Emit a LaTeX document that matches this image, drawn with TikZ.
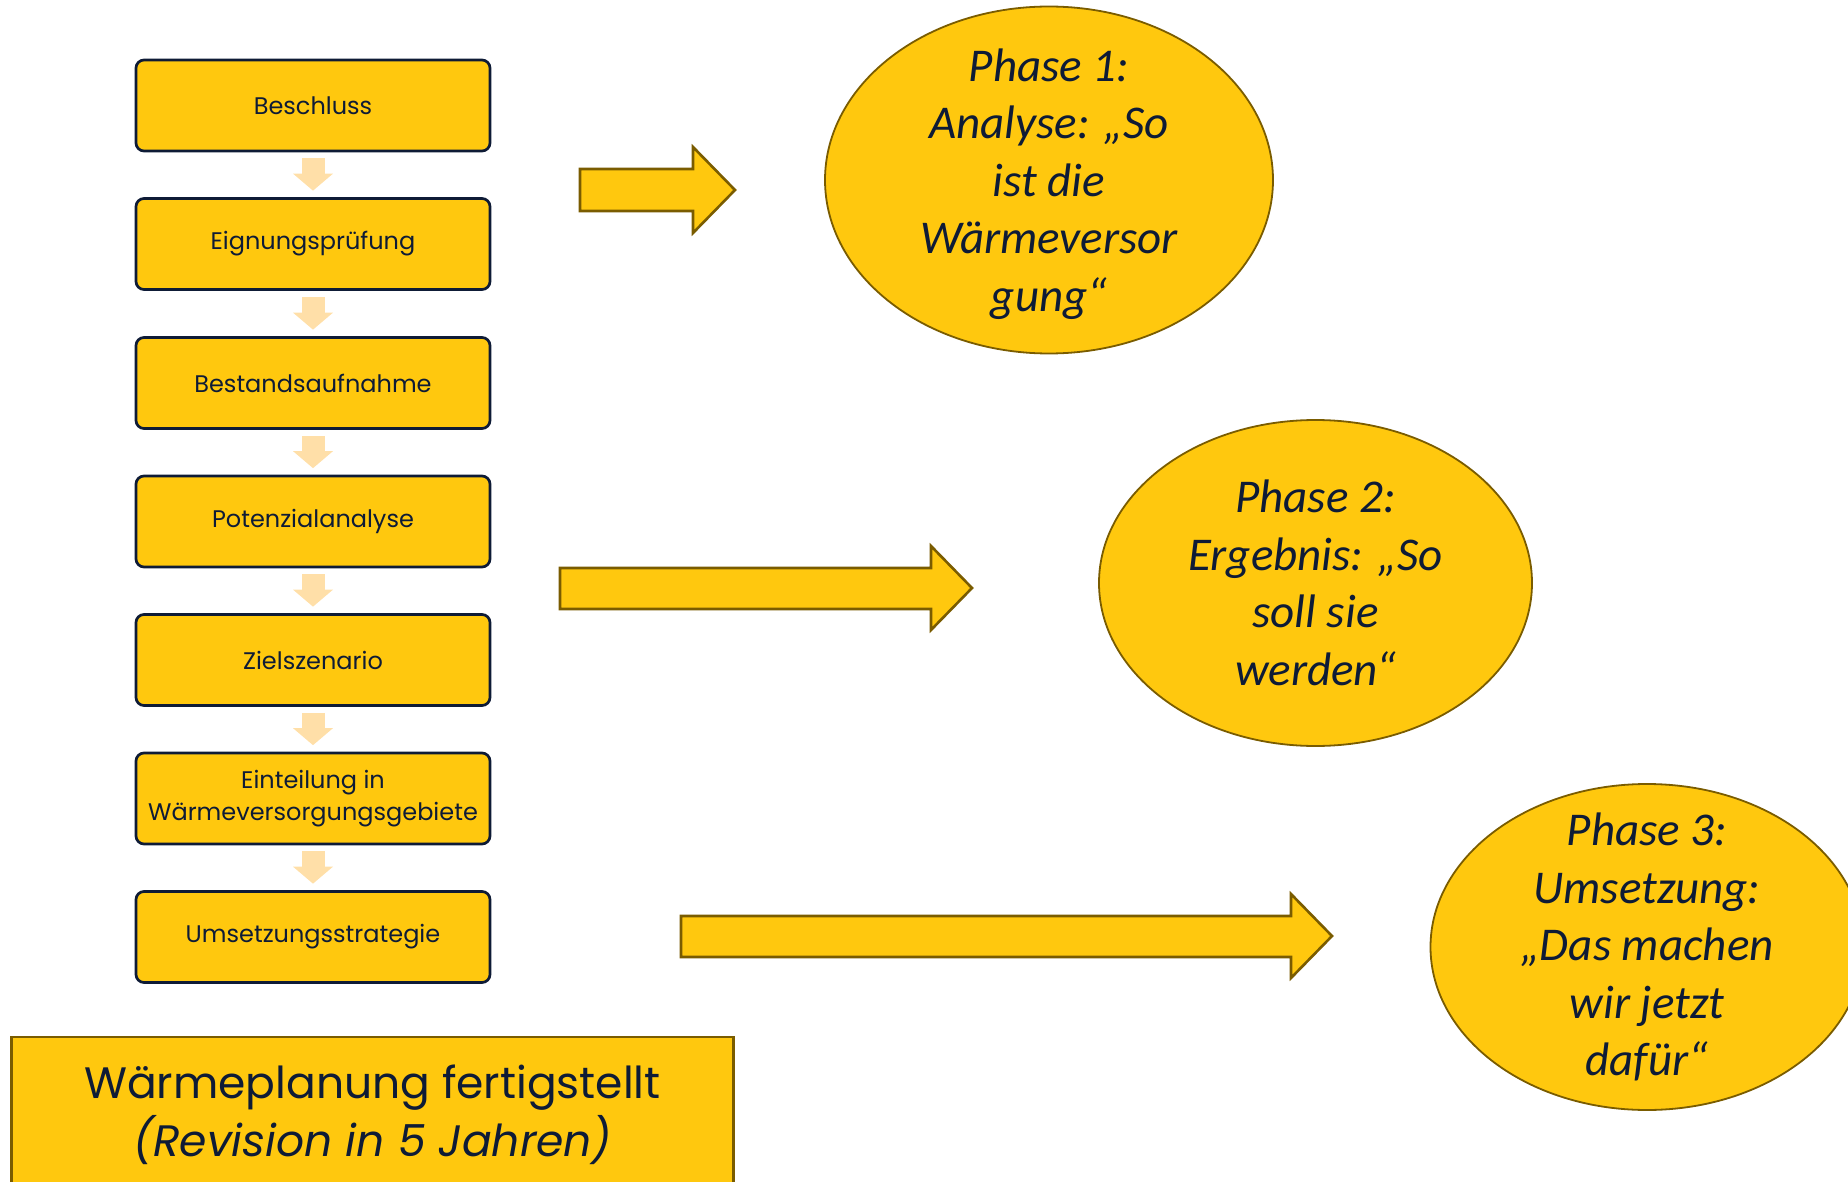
\documentclass[tikz,border=0pt]{standalone}
\usepackage{fontspec}
\setmainfont{Poppins}
\newfontfamily\calibri{Carlito}
\usetikzlibrary{arrows.meta,shapes.geometric}
\definecolor{gold}{HTML}{FFC80E}
\definecolor{olive}{HTML}{7A5C00}
\definecolor{navy}{HTML}{0E1B36}
\definecolor{peach}{HTML}{FFDFA8}
\tikzset{
  stepbox/.style={draw=navy, line width=2.7pt, fill=gold, rounded corners=8pt,
    minimum width=354pt, minimum height=91pt, inner sep=0pt, align=center,
    text=navy, font=\fontsize{24}{32}\selectfont},
  stepflow/.style={draw=peach, line width=23pt,
    -{Triangle[width=40pt,length=17pt,line width=0pt]},
    shorten <=6pt, shorten >=6.5pt},
  phase/.style={ellipse, draw=olive, line width=1.8pt, fill=gold, inner sep=0pt},
  phasetext/.style={align=center, text=navy, inner sep=0pt,
    font=\calibri\itshape\fontsize{47}{57.5}\selectfont},
  bigarrow/.style={draw=olive, line width=2.6pt, fill=gold, line join=miter},
  donebox/.style={draw=olive, line width=2.4pt, fill=gold, minimum width=722pt,
    minimum height=156pt, inner sep=0pt, align=center, text=navy,
    font=\fontsize{44}{58}\selectfont}
}
\begin{document}
\begin{tikzpicture}[x=1pt,y=-1pt]
   \useasboundingbox (0,0) rectangle (1848,1182);
   \clip (0,0) rectangle (1848,1182);
   \node[stepbox] (beschluss) at (313,105.5) {Beschluss};
   \node[stepbox] (eignung)   at (313,244)   {Eignungsprüfung};
   \node[stepbox] (bestand)   at (313,383)   {Bestandsaufnahme};
   \node[stepbox] (potenzial) at (313,521.5) {Potenzialanalyse};
   \node[stepbox] (ziel)      at (313,660)   {Zielszenario};
   \node[stepbox] (gebiete)   at (313,798.5) {Einteilung in\\Wärmeversorgungsgebiete};
   \node[stepbox] (strategie) at (313,937)   {Umsetzungsstrategie};
   \draw[stepflow] (beschluss) -- (eignung);
   \draw[stepflow] (eignung) -- (bestand);
   \draw[stepflow] (bestand) -- (potenzial);
   \draw[stepflow] (potenzial) -- (ziel);
   \draw[stepflow] (ziel) -- (gebiete);
   \draw[stepflow] (gebiete) -- (strategie);
   \node[donebox, anchor=north] (fertig) at (372.5,1036)
     {Wärmeplanung fertigstellt\\\itshape(Revision in 5 Jahren)};
   \draw[bigarrow] (580,169) -- ++(113,0) -- ++(0,-22) -- ++(42,43)
     -- ++(-42,43) -- ++(0,-22) -- ++(-113,0) -- cycle;
   \draw[bigarrow] (560,568) -- ++(371,0) -- ++(0,-22) -- ++(41,42)
     -- ++(-41,42) -- ++(0,-21) -- ++(-371,0) -- cycle;
   \draw[bigarrow] (681,916) -- ++(610,0) -- ++(0,-22) -- ++(41,42)
     -- ++(-41,42) -- ++(0,-21) -- ++(-610,0) -- cycle;
   \node[phase, minimum width=448pt, minimum height=347pt] (analyse) at (1049,180) {};
   \node[phasetext] (analysetext) at (1049,184)
     {Phase 1:\\Analyse: „So\\ist die\\Wärmeversor\\gung“};
   \node[phase, minimum width=433pt, minimum height=326pt] (ergebnis) at (1315.5,583) {};
   \node[phasetext] (ergebnistext) at (ergebnis)
     {Phase 2:\\Ergebnis: „So\\soll sie\\werden“};
   \node[phase, minimum width=433pt, minimum height=326pt] (umsetzung) at (1647,947) {};
   \node[phasetext] (umsetzungtext) at (umsetzung)
     {Phase 3:\\Umsetzung:\\„Das machen\\wir jetzt\\dafür“};
\end{tikzpicture}
\end{document}
